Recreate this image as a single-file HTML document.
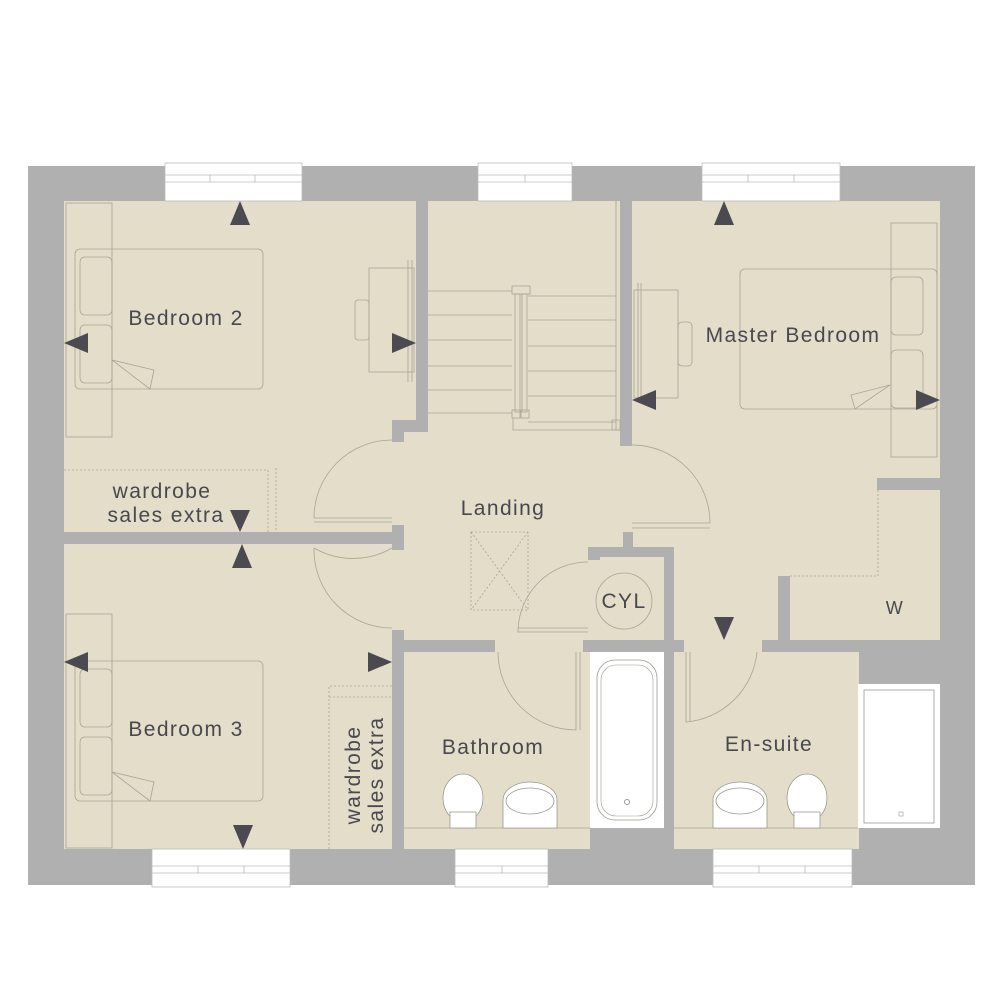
<!DOCTYPE html>
<html><head><meta charset="utf-8"><style>
html,body{margin:0;padding:0;background:#fff;}
svg{display:block;}
text{font-family:"Liberation Sans",sans-serif;fill:#48484e;letter-spacing:1.4px;}
</style></head><body>
<svg width="1000" height="1000" viewBox="0 0 1000 1000" xmlns="http://www.w3.org/2000/svg">
<rect x="0" y="0" width="1000" height="1000" fill="#fff"/>
<rect x="28" y="166" width="947" height="719" fill="#b1b0b1"/>
<g fill="#e4ddca">
<rect x="64" y="201" width="352" height="331"/>
<rect x="428" y="201" width="192" height="232"/>
<rect x="632" y="201" width="308" height="277"/>
<rect x="632" y="478" width="245" height="98"/>
<rect x="632" y="576" width="146" height="76"/>
<rect x="790" y="490" width="150" height="150"/>
<rect x="404" y="432" width="228" height="208"/>
<rect x="392" y="442" width="20" height="190"/>
<rect x="64" y="544" width="328" height="305"/>
<rect x="404" y="652" width="186" height="197"/>
<rect x="674" y="652" width="185" height="197"/>
<rect x="495" y="638" width="88" height="16"/>
<rect x="684" y="638" width="78" height="16"/>
</g>
<g fill="#b1b0b1">
<rect x="416" y="201" width="12" height="229"/>
<rect x="392" y="420" width="36" height="12"/>
<rect x="392" y="420" width="12" height="22"/>
<rect x="620" y="201" width="12" height="245"/>
<rect x="64" y="532" width="340" height="12"/>
<rect x="392" y="525" width="12" height="25"/>
<rect x="392" y="630" width="12" height="219"/>
<rect x="404" y="640" width="91" height="12"/>
<rect x="583" y="640" width="101" height="12"/>
<rect x="588" y="547" width="86" height="10"/>
<rect x="588" y="547" width="12" height="13"/>
<rect x="623" y="532" width="10" height="15"/>
<rect x="664" y="547" width="10" height="305"/>
<rect x="762" y="640" width="97" height="12"/>
<rect x="778" y="576" width="12" height="70"/>
<rect x="877" y="478" width="63" height="12"/>
<rect x="590" y="828" width="84" height="57"/>
</g>
<rect x="590" y="652" width="74" height="176" fill="#fff"/>
<rect x="597" y="660" width="60" height="160" rx="18" fill="none" stroke="#9a9a90" stroke-width="0.8"/>
<rect x="601" y="665" width="52" height="151" rx="15" fill="none" stroke="#9a9a90" stroke-width="0.6"/>
<circle cx="627" cy="802" r="2.5" fill="none" stroke="#999"/>
<rect x="858" y="684" width="82" height="144" fill="#fff"/>
<rect x="864" y="690" width="70" height="133" fill="none" stroke="#9a9a90" stroke-width="0.8"/>
<rect x="899" y="812" width="4" height="4" fill="none" stroke="#999" stroke-width="0.6"/>
<g fill="#fff" stroke="#bbb" stroke-width="0.8">
<rect x="165" y="163" width="137" height="38"/><rect x="478" y="163" width="94" height="38"/><rect x="702" y="163" width="138" height="38"/>
<rect x="152" y="849" width="138" height="38"/><rect x="455" y="849" width="93" height="38"/><rect x="713" y="849" width="139" height="38"/>
</g>
<g stroke="#bbb" stroke-width="0.8" fill="none">
<line x1="165" y1="175" x2="302" y2="175"/><line x1="165" y1="182" x2="302" y2="182"/><line x1="210" y1="175" x2="210" y2="182"/><line x1="255" y1="175" x2="255" y2="182"/>
<line x1="478" y1="175" x2="572" y2="175"/><line x1="478" y1="182" x2="572" y2="182"/><line x1="525" y1="175" x2="525" y2="182"/>
<line x1="702" y1="175" x2="840" y2="175"/><line x1="702" y1="182" x2="840" y2="182"/><line x1="748" y1="175" x2="748" y2="182"/><line x1="794" y1="175" x2="794" y2="182"/>
<line x1="152" y1="866" x2="290" y2="866"/><line x1="152" y1="873" x2="290" y2="873"/><line x1="198" y1="866" x2="198" y2="873"/><line x1="244" y1="866" x2="244" y2="873"/>
<line x1="455" y1="866" x2="548" y2="866"/><line x1="455" y1="873" x2="548" y2="873"/><line x1="502" y1="866" x2="502" y2="873"/>
<line x1="713" y1="866" x2="852" y2="866"/><line x1="713" y1="873" x2="852" y2="873"/><line x1="759" y1="866" x2="759" y2="873"/><line x1="805" y1="866" x2="805" y2="873"/>
</g>
<g stroke="#a8a594" stroke-width="0.8" fill="none">
<rect x="66" y="203" width="46" height="234"/><rect x="75" y="249" width="188" height="140" rx="5"/>
<rect x="80" y="257" width="32" height="58" rx="5"/><rect x="80" y="325" width="32" height="58" rx="5"/>
<polyline points="112,360 154,370 150,389 112,360"/>
<rect x="369" y="268" width="45" height="104"/><rect x="355" y="300" width="14" height="40" rx="3"/><line x1="408" y1="260" x2="408" y2="382"/><line x1="412" y1="260" x2="412" y2="382"/>
<path d="M64 470 H268 V532 M276 468 V532" stroke-dasharray="2,2"/>
<line x1="428" y1="291" x2="512" y2="291"/><line x1="428" y1="315" x2="512" y2="315"/><line x1="428" y1="340" x2="512" y2="340"/><line x1="428" y1="366" x2="512" y2="366"/><line x1="428" y1="390" x2="512" y2="390"/><line x1="428" y1="413" x2="512" y2="413"/>
<line x1="528" y1="296" x2="616" y2="296"/><line x1="528" y1="320" x2="616" y2="320"/><line x1="528" y1="346" x2="616" y2="346"/><line x1="528" y1="371" x2="616" y2="371"/><line x1="528" y1="396" x2="616" y2="396"/><line x1="528" y1="422" x2="616" y2="422"/>
<rect x="512" y="286" width="18" height="8"/><rect x="515" y="294" width="5" height="118"/><rect x="522" y="294" width="5" height="118"/>
<rect x="512" y="410" width="8" height="8"/><rect x="521" y="410" width="8" height="8"/><polyline points="513,418 513,430 620,430"/><rect x="612" y="420" width="8" height="10"/>
<line x1="616" y1="201" x2="616" y2="430"/>
<rect x="634" y="290" width="44" height="108"/><rect x="678" y="322" width="14" height="44" rx="4"/><line x1="638" y1="283" x2="638" y2="400"/><line x1="641" y1="283" x2="641" y2="400"/>
<rect x="891" y="223" width="46" height="234"/><rect x="740" y="269" width="197" height="140" rx="5"/>
<rect x="891" y="277" width="32" height="58" rx="5"/><rect x="891" y="350" width="32" height="58" rx="5"/>
<polyline points="890,385 851,395 855,409 890,385"/>
<path d="M878 490 V576 H790" stroke-dasharray="2,2"/>
<path d="M392 440 A78 78 0 0 0 314 518 L392 518 M314 522 L392 522"/>
<path d="M392 548 A78 78 0 0 1 314 548 M314 548 A78 78 0 0 0 392 628" />
<path d="M632 445 A78 78 0 0 1 710 523 L632 523 M632 528 L710 528"/>
<path d="M588 562 A70 70 0 0 0 518 632 L588 632 M518 628 L588 628"/>
<path d="M498 652 A78 78 0 0 0 576 730 L576 652 M580 652 L580 730"/>
<path d="M686 652 V722 A78 78 0 0 0 757 652 M690 652 V722"/>
<rect x="471" y="532" width="57" height="78" stroke-dasharray="2,2"/><path d="M471 532 L528 610 M528 532 L471 610" stroke-dasharray="2,2"/>
<rect x="66" y="614" width="46" height="234"/><rect x="75" y="661" width="188" height="140" rx="5"/>
<rect x="80" y="669" width="32" height="58" rx="5"/><rect x="80" y="737" width="32" height="58" rx="5"/>
<polyline points="112,772 154,782 150,801 112,772"/>
<path d="M329 849 V686 H392 M329 697 H392" stroke-dasharray="2,2"/>
<ellipse cx="624" cy="601" rx="28" ry="28"/>
<line x1="404" y1="828" x2="590" y2="828"/><line x1="674" y1="828" x2="858" y2="828"/>
</g>
<g fill="#fff" stroke="#9a9a90" stroke-width="0.8">
<ellipse cx="463" cy="798" rx="20" ry="24"/><rect x="450" y="812" width="26" height="16"/>
<path d="M503 828 V800 A27 18 0 0 1 557 800 V828 Z"/><ellipse cx="530" cy="801" rx="24" ry="13" fill="none"/>
<ellipse cx="807" cy="798" rx="20" ry="24"/><rect x="794" y="812" width="26" height="16"/>
<path d="M713 828 V800 A27 18 0 0 1 767 800 V828 Z"/><ellipse cx="740" cy="801" rx="24" ry="13" fill="none"/>
</g>
<g fill="#4a4a50">
<polygon points="240,201 230,225 250,225"/>
<polygon points="64,343 88,333 88,353"/>
<polygon points="416,343 392,333 392,353"/>
<polygon points="240,532 230,510 250,510"/>
<polygon points="242,544 232,568 252,568"/>
<polygon points="64,662 88,652 88,672"/>
<polygon points="392,662 368,652 368,672"/>
<polygon points="243,849 233,825 253,825"/>
<polygon points="724,201 714,225 734,225"/>
<polygon points="632,400 656,390 656,410"/>
<polygon points="940,400 916,390 916,410"/>
<polygon points="724,640 714,617 734,617"/>
</g>
<g font-size="21">
<text x="186" y="325" text-anchor="middle">Bedroom 2</text>
<text x="793" y="342" text-anchor="middle">Master Bedroom</text>
<text x="503" y="515" text-anchor="middle">Landing</text>
<text x="162" y="498" text-anchor="middle">wardrobe</text>
<text x="166" y="522" text-anchor="middle">sales extra</text>
<text x="186" y="736" text-anchor="middle">Bedroom 3</text>
<text transform="translate(360,775) rotate(-90)" text-anchor="middle" y="0">wardrobe</text>
<text transform="translate(383,775) rotate(-90)" text-anchor="middle" y="0">sales extra</text>
<text x="493" y="754" text-anchor="middle">Bathroom</text>
<text x="769" y="751" text-anchor="middle">En-suite</text>
<text x="624" y="608" text-anchor="middle">CYL</text>
<text x="895" y="614" text-anchor="middle" font-size="18">W</text>
</g>
</svg>
</body></html>
